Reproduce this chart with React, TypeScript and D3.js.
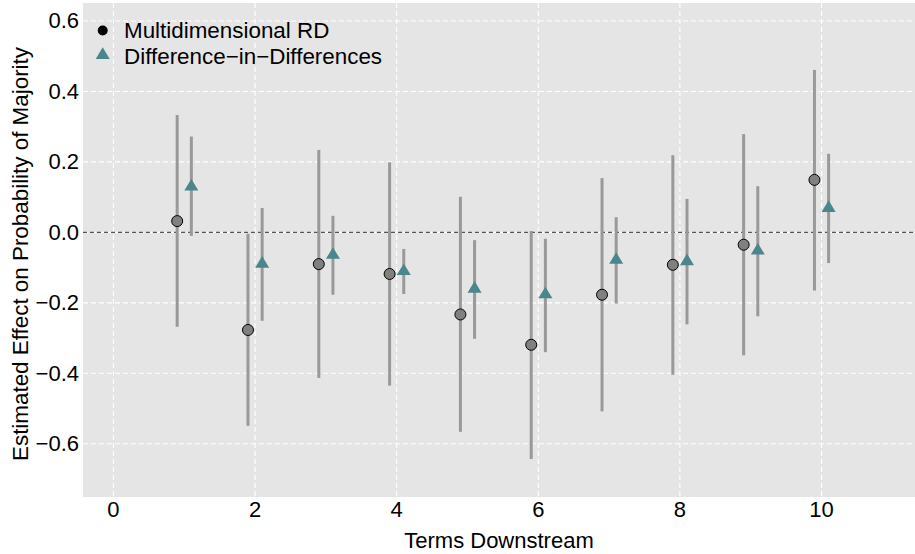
import React from "react";
import * as d3 from "d3";

const terms = [1, 2, 3, 4, 5, 6, 7, 8, 9, 10];
const rdEst = [0.032, -0.277, -0.090, -0.118, -0.233, -0.319, -0.177, -0.092, -0.035, 0.149];
const rdLo = [-0.268, -0.549, -0.413, -0.435, -0.566, -0.643, -0.508, -0.404, -0.349, -0.165];
const rdHi = [0.333, -0.004, 0.234, 0.199, 0.101, 0.004, 0.154, 0.219, 0.279, 0.461];
const didEst = [0.130, -0.089, -0.064, -0.110, -0.160, -0.176, -0.078, -0.082, -0.052, 0.069];
const didLo = [-0.010, -0.251, -0.177, -0.175, -0.302, -0.340, -0.202, -0.261, -0.238, -0.087];
const didHi = [0.272, 0.069, 0.047, -0.047, -0.022, -0.018, 0.043, 0.095, 0.131, 0.223];
const xTicks = [0, 2, 4, 6, 8, 10];
const yTicks = [-0.6, -0.4, -0.2, 0.0, 0.2, 0.4, 0.6];
const seriesNames = ["Multidimensional RD", "Difference\u2212in\u2212Differences"];

const W = 915;
const H = 554;
const panel = { left: 83, right: 915, top: 3, bottom: 497 };
const FONT = "'Liberation Sans', Arial, Helvetica, sans-serif";
const TEAL = "#4a868b";
const BAR = "#999999";

function tri(cx: number, cy: number) {
  const hw = 7;
  return `M${cx},${cy - 7.7}L${cx + hw},${cy + 3.9}L${cx - hw},${cy + 3.9}Z`;
}

export default function App() {
  const x = d3.scaleLinear().domain([-0.43, 11.32]).range([panel.left, panel.right]);
  const y = d3.scaleLinear().domain([-0.751, 0.651]).range([panel.bottom, panel.top]);
  const fmt = (v: number) => d3.format(".1f")(v).replace("-", "\u2212");
  const off = 0.1;

  return (
    <svg
      width={W}
      height={H}
      style={{ position: "absolute", left: 0, top: 0, display: "block", background: "#fff" }}
      fontFamily={FONT}
    >
      <rect x={panel.left} y={panel.top} width={panel.right - panel.left} height={panel.bottom - panel.top} fill="#e5e5e5" />
      {yTicks.map((t) => (
        <line key={"gy" + t} x1={panel.left} x2={panel.right} y1={y(t)} y2={y(t)} stroke="#fff" strokeWidth={1.1} strokeDasharray="5,3" />
      ))}
      {xTicks.map((t) => (
        <line key={"gx" + t} x1={x(t)} x2={x(t)} y1={panel.top} y2={panel.bottom} stroke="#fff" strokeWidth={1.1} strokeDasharray="5,3" />
      ))}
      <line x1={panel.left} x2={panel.right} y1={y(0)} y2={y(0)} stroke="#555" strokeWidth={1.1} strokeDasharray="4,3" />

      {terms.map((t, i) => (
        <g key={"b" + t}>
          <line x1={x(t - off)} x2={x(t - off)} y1={y(rdLo[i])} y2={y(rdHi[i])} stroke={BAR} strokeWidth={3} />
          <line x1={x(t + off)} x2={x(t + off)} y1={y(didLo[i])} y2={y(didHi[i])} stroke={BAR} strokeWidth={3} />
        </g>
      ))}
      {terms.map((t, i) => (
        <g key={"p" + t}>
          <circle cx={x(t - off)} cy={y(rdEst[i])} r={5.5} fill="#808080" stroke="#000" strokeWidth={1} />
          <path d={tri(x(t + off), y(didEst[i]))} fill={TEAL} />
        </g>
      ))}

      {/* legend */}
      <circle cx={102.7} cy={30.5} r={5} fill="#000" />
      <path d={tri(102.7, 55)} fill={TEAL} />
      <text x={124} y={30.5} dominantBaseline="central" fontSize={22.4} fill="#000">{seriesNames[0]}</text>
      <text x={124} y={56} dominantBaseline="central" fontSize={22.4} fill="#000">{seriesNames[1]}</text>

      {/* axes labels */}
      {yTicks.map((t) => (
        <text key={"ty" + t} x={79} y={y(t)} textAnchor="end" dominantBaseline="central" fontSize={22} fill="#000">{fmt(t)}</text>
      ))}
      {xTicks.map((t) => (
        <text key={"tx" + t} x={x(t)} y={509} textAnchor="middle" dominantBaseline="central" fontSize={22} fill="#000">{String(t)}</text>
      ))}
      <text x={(panel.left + panel.right) / 2} y={540} textAnchor="middle" dominantBaseline="central" fontSize={22} fill="#000">Terms Downstream</text>
      <text transform={`translate(20,${(panel.top + panel.bottom) / 2 + 4}) rotate(-90)`} textAnchor="middle" dominantBaseline="central" fontSize={22.4} fill="#000">Estimated Effect on Probability of Majority</text>
    </svg>
  );
}
